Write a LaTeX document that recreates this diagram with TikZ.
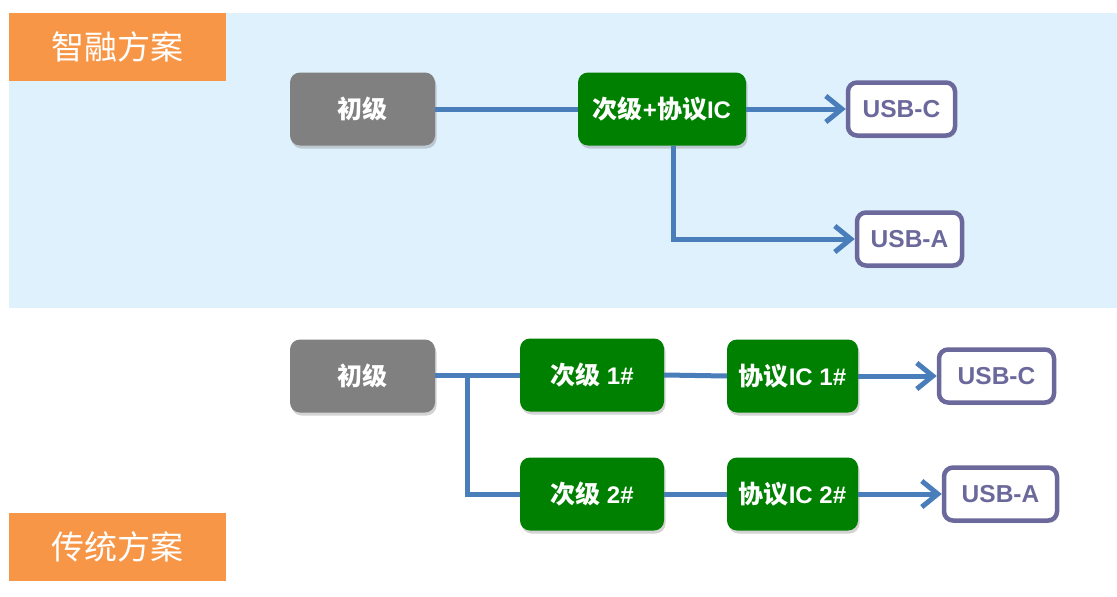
\documentclass[tikz,border=0pt]{standalone}
\usepackage{fontspec}
\setmainfont{Liberation Sans}
\newfontfamily\cjk{Noto Sans CJK SC}
\newfontfamily\cjkb{Noto Sans CJK SC Bold}
\usetikzlibrary{arrows.meta,shadows}
\definecolor{bgblue}{HTML}{DFF1FD}
\definecolor{orng}{HTML}{F79646}
\definecolor{grn}{HTML}{008000}
\definecolor{gry}{HTML}{808080}
\definecolor{lnblue}{HTML}{4A7EBB}
\definecolor{usbc}{HTML}{6B699B}
\newcommand{\zh}[1]{{\cjkb\fontsize{25}{26}\selectfont #1}}
\tikzset{
  box/.style={rounded corners=10pt, minimum height=73pt, text=white, font=\fontsize{24}{26}\selectfont\bfseries,
    drop shadow={shadow xshift=1.5pt, shadow yshift=-3pt, opacity=0.35}},
  graybox/.style={box, fill=gry, minimum width=145pt},
  greenbox/.style={box, fill=grn},
  usbbox/.style={rounded corners=9pt, draw=usbc, line width=4.5pt, fill=white, text=usbc,
    font=\fontsize{24.5}{26}\selectfont\bfseries, minimum height=53pt,
    drop shadow={shadow xshift=1.5pt, shadow yshift=-2.5pt, opacity=0.3}},
  label/.style={fill=orng, minimum width=217pt, minimum height=68pt, text=white, font=\cjk\fontsize{33}{35}\selectfont},
  conn/.style={draw=lnblue, line width=5pt},
  arr/.style={conn, -{Straight Barb[length=16pt, width=26pt, line width=5pt]}}
}
\begin{document}
\begin{tikzpicture}[x=1pt, y=-1pt]
\useasboundingbox (0,0) rectangle (1117,597);
\fill[bgblue] (9,13) rectangle (1117,308);
\node[label] (t1) at (117.5,47) {智融方案};
\node[label] (t2) at (117.5,546.5) {传统方案};
% top scheme
\node[graybox] (a1) at (362.5,109) {\zh{初级}};
\node[greenbox, minimum width=168pt] (a2) at (662,109) {\zh{次级}+\zh{协议}IC};
\node[usbbox, minimum width=107pt] (a3) at (901.5,109) {USB-C};
\node[usbbox, minimum width=105pt] (a4) at (909.5,239) {USB-A};
\draw[conn] (a1.east) -- (a2.west);
\draw[arr] (a2.east) -- (a3.west);
\coordinate (a2b) at (673,146);
\draw[arr] (a2b) |- (a4.west);
% traditional scheme
\node[graybox] (b1) at (362.5,376) {\zh{初级}};
\node[greenbox, minimum width=144pt] (b2) at (592,375) {\zh{次级} 1\#};
\node[greenbox, minimum width=131pt] (b3) at (792.5,376) {\zh{协议}IC 1\#};
\node[usbbox, minimum width=115pt] (b4) at (996.5,376) {USB-C};
\node[greenbox, minimum width=144pt] (c2) at (592,494) {\zh{次级} 2\#};
\node[greenbox, minimum width=131pt] (c3) at (792.5,494) {\zh{协议}IC 2\#};
\node[usbbox, minimum width=113pt] (c4) at (1000.5,494) {USB-A};
\coordinate (br) at (467,375.5);
\draw[conn] (b1.east |- br) -- (b2.west |- br);
\draw[conn] (br) |- (c2.west);
\draw[conn] (b2.east) -- (b3.west);
\draw[conn] (c2.east) -- (c3.west);
\draw[arr] (b3.east) -- (b4.west);
\draw[arr] (c3.east) -- (c4.west);
\end{tikzpicture}
\end{document}
